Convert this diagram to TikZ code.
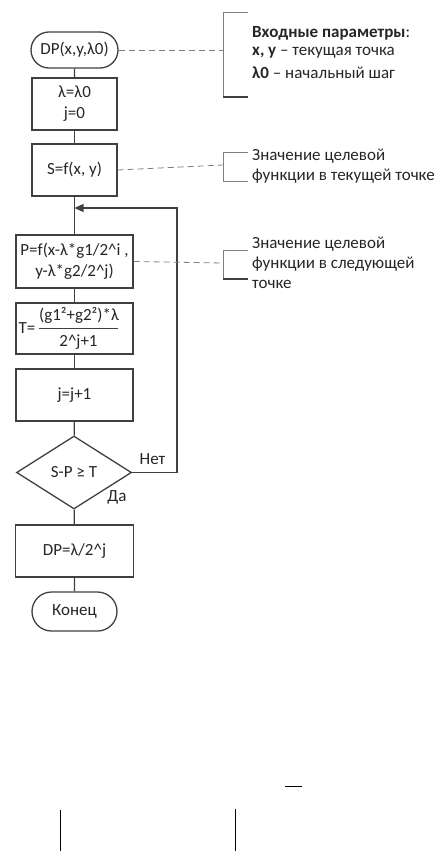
\documentclass[tikz,border=0pt]{standalone}
\usepackage{fontspec}
\setmainfont{Carlito}
\usetikzlibrary{shapes.misc,shapes.geometric,arrows.meta}
\definecolor{ln}{HTML}{404040}
\definecolor{tx}{HTML}{262626}
\definecolor{dshc}{HTML}{808080}
\begin{document}
\begin{tikzpicture}[x=1pt,y=-1pt, font=\fontsize{17}{21}\selectfont, text=tx,
  blk/.style={draw=ln, line width=1.3pt, rectangle, inner sep=0pt, align=center},
  term/.style={draw=ln, line width=1.3pt, rounded rectangle, inner sep=0pt},
  dec/.style={draw=ln, line width=1.3pt, diamond, inner sep=0pt, aspect=1.6},
  conn/.style={draw=ln, line width=1.3pt},
  dline/.style={draw=dshc, dash pattern=on 6pt off 4pt, line width=0.8pt},
  brk/.style={draw=dshc, line width=0.8pt},
  brkd/.style={draw=ln, line width=1.3pt},
  ann/.style={anchor=west, inner sep=0pt, align=left},
  lbl/.style={inner sep=0pt}]
\useasboundingbox (0,0) rectangle (441,851);

% flowchart nodes
\node[term, minimum width=87pt, minimum height=36pt] (start) at (74.5,50) {DP(x,y,λ0)};
\node[blk, minimum width=85pt, minimum height=52pt] (init) at (74.5,104) {λ=λ0\\j=0};
\node[blk, minimum width=85pt, minimum height=52pt] (s) at (74.5,170) {S=f(x, y)};
\node[blk, minimum width=117pt, minimum height=53pt] (p) at (74.5,261.5) {P=f(x-λ*g1/2\textasciicircum i ,\\y-λ*g2/2\textasciicircum j)};
\node[blk, minimum width=117pt, minimum height=51pt] (t) at (74.5,328.5) {};
\node[blk, minimum width=117pt, minimum height=52pt] (jj) at (74.5,395) {j=j+1};
\node[dec, minimum width=115pt, minimum height=73pt] (d) at (74,472.5) {S-P ≥ T};
\node[blk, minimum width=118pt, minimum height=52pt] (dp) at (74.5,551) {DP=λ/2\textasciicircum j};
\node[term, minimum width=85pt, minimum height=39pt] (end) at (74.5,611.5) {Конец};

% T box contents
\node[lbl] (tl) at (27,328) {T=};
\node[lbl] (tn) at (79,315) {(g1²+g2²)*λ};
\node[lbl] (td) at (78.5,342) {2\textasciicircum j+1};
\draw[draw=ln, line width=1pt] (39,328) -- (118,328);

% connectors
\draw[conn] (start) -- (init);
\draw[conn] (init) -- (s);
\draw[conn] (s) -- (p);
\draw[conn] (p) -- (t);
\draw[conn] (t) -- (jj);
\draw[conn] (jj) -- (d);
\draw[conn] (d) -- (dp);
\draw[conn] (dp) -- (end);
\coordinate (lr) at (177,472.5);
\coordinate (ur) at (177,208);
\coordinate (ul) at (74.5,208);
\draw[conn, -{Triangle[length=9pt,width=8pt]}] (d.east) -- (lr) -- (ur) -- (ul);
\node[lbl] (no) at (152.5,459) {Нет};
\node[lbl] (yes) at (117,497) {Да};

% annotations
\coordinate (b1) at (223,50);
\coordinate (b2) at (223,165);
\coordinate (b3) at (223,263);
\draw[dline] (start.east) -- (b1);
\draw[dline] (s.east) -- (b2);
\draw[dline] (p.east) -- (b3);

\draw[brk] (248,12) -- (223,12) -- (223,97);
\draw[brkd] (223,97) -- (248,97);
\draw[brk] (248,152) -- (223,152) -- (223,181) -- (248,181);
\draw[brk] (248,250) -- (223,250) -- (223,279);
\draw[brkd] (223,279) -- (248,279);

\node[ann] (a11) at (252,33) {\textbf{Входные параметры}:};
\node[ann] (a12) at (252,53) {\textbf{x, y} – текущая точка};
\node[ann] (a13) at (252,73) {\textbf{λ0} – начальный шаг};
\node[ann] (a21) at (252,156) {Значение целевой};
\node[ann] (a22) at (252,176) {функции в текущей точке};
\node[ann] (a31) at (252,244) {Значение целевой};
\node[ann] (a32) at (252,264) {функции в следующей};
\node[ann] (a33) at (252,284) {точке};

% stray marks
\draw[draw=black, line width=0.8pt] (285,786) -- (302,786);
\draw[draw=black, line width=0.8pt] (60,810) -- (60,851);
\draw[draw=black, line width=0.8pt] (235,809) -- (235,851);
\end{tikzpicture}
\end{document}
